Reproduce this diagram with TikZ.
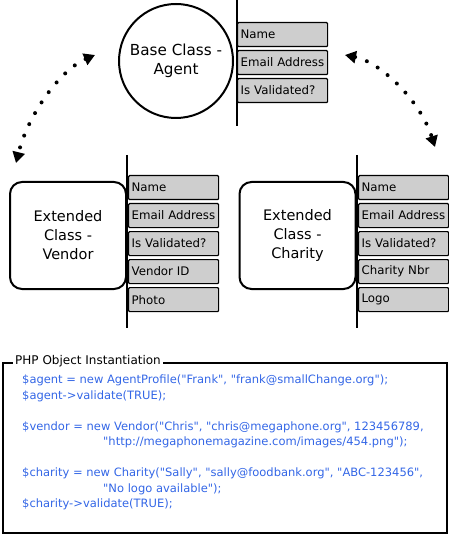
\documentclass[tikz,border=0pt]{standalone}
\usepackage{fontspec}
\setmainfont{DejaVu Sans}[Ligatures=TeXOff]
\usetikzlibrary{arrows.meta}
\definecolor{codeblue}{RGB}{51,102,230}
\definecolor{fieldgray}{RGB}{206,206,206}
\begin{document}
\begin{tikzpicture}[x=1pt,y=-1pt,
  field/.style={draw, fill=fieldgray, line width=1.2pt, minimum height=24pt, anchor=north west,
    inner xsep=3pt, inner ysep=0pt, text width=84pt, align=left, font=\fontsize{11.8}{13}\selectfont, rounded corners=1pt},
  classbox/.style={draw, line width=2pt, rounded corners=12pt, minimum width=116pt, minimum height=107pt,
    align=center, font=\fontsize{14.5}{19}\selectfont},
  divider/.style={line width=1.3pt},
  dotarrow/.style={line width=4pt, line cap=round, dash pattern=on 0pt off 12.5pt,
    {Triangle[length=11pt,width=12pt]}-{Triangle[length=11pt,width=12pt]}}
]
\useasboundingbox (0,0) rectangle (448,534);

% base class
\node[circle, draw, line width=2pt, minimum size=114pt, align=center, font=\fontsize{15.2}{19}\selectfont] (base) at (176,61) {Base Class -\\Agent};
\coordinate (bt) at (237,0);
\coordinate (bb) at (237,126);
\draw[divider] (bt) -- (bb);
\node[field] (b1) at (237,22) {Name};
\node[field] (b2) at (237,50) {Email Address};
\node[field] (b3) at (237,78) {Is Validated?};

% vendor
\node[classbox] (vendor) at (68,235.5) {Extended\\Class -\\Vendor};
\coordinate (vt) at (127,155);
\coordinate (vb) at (127,328);
\draw[divider] (vt) -- (vb);
\node[field] (v1) at (128,175) {Name};
\node[field] (v2) at (128,203) {Email Address};
\node[field] (v3) at (128,231) {Is Validated?};
\node[field] (v4) at (128,259) {Vendor ID};
\node[field] (v5) at (128,287) {Photo};

% charity
\node[classbox] (charity) at (297.5,235.5) {Extended\\Class -\\Charity};
\coordinate (ct) at (357,155);
\coordinate (cb) at (357,328);
\draw[divider] (ct) -- (cb);
\node[field] (c1) at (358,175) {Name};
\node[field] (c2) at (358,203) {Email Address};
\node[field] (c3) at (358,231) {Is Validated?};
\node[field] (c4) at (358,259) {Charity Nbr};
\node[field] (c5) at (358,287) {Logo};

% dotted arrows
\coordinate (la1) at (95,55);
\coordinate (la2) at (16,163);
\coordinate (ra1) at (345,55);
\coordinate (ra2) at (435,147);
\draw[dotarrow] (la1) .. controls (60,70) and (28,115) .. (la2);
\draw[dotarrow] (ra1) .. controls (380,62) and (420,100) .. (ra2);

% PHP box
\node[draw, line width=1.8pt, minimum width=444pt, minimum height=170pt, anchor=north west, inner sep=0pt] (frame) at (2,362) {};
\node[anchor=west, fill=white, inner xsep=2pt, inner ysep=1pt, font=\fontsize{12}{13}\selectfont] (title) at (13,361) {PHP Object Instantiation};
\node[anchor=north west, align=left, text=codeblue, inner sep=0pt, font=\fontsize{11.5}{15.5}\selectfont] (code) at (22,375) {%
\$agent = new AgentProfile("Frank", "frank@smallChange.org");\\
\$agent->validate(TRUE);\\[15.5pt]
\$vendor = new Vendor("Chris", "chris@megaphone.org", 123456789,\\
\hspace*{81pt}"http://megaphonemagazine.com/images/454.png");\\[15.5pt]
\$charity = new Charity("Sally", "sally@foodbank.org", "ABC-123456",\\
\hspace*{81pt}"No logo available");\\
\$charity->validate(TRUE);};
\end{tikzpicture}
\end{document}
